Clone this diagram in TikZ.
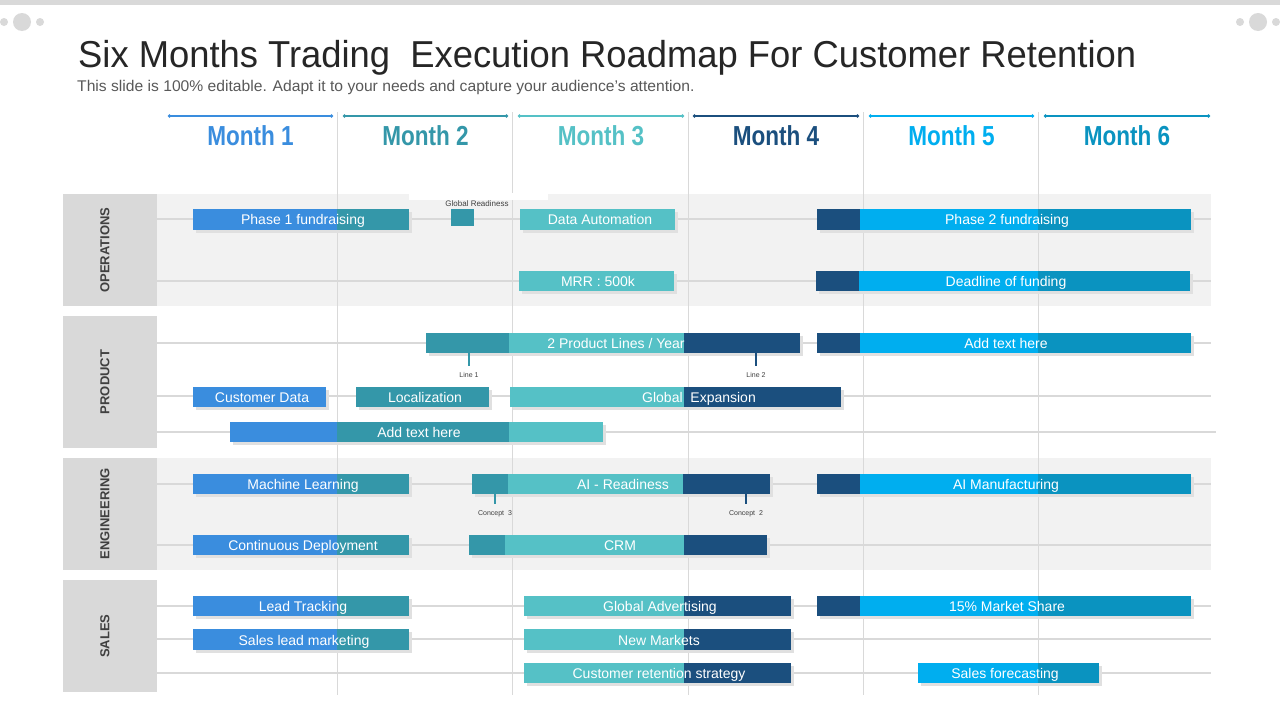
\documentclass[tikz,border=0pt]{standalone}
\usepackage{fontspec}
\setmainfont{Liberation Sans}
\usetikzlibrary{arrows.meta}
\definecolor{cA}{HTML}{3A8DDE}
\definecolor{cB}{HTML}{3497A9}
\definecolor{cC}{HTML}{55C1C6}
\definecolor{cD}{HTML}{1B4F7E}
\definecolor{cE}{HTML}{00AEEF}
\definecolor{cF}{HTML}{0A93C0}
\definecolor{gridc}{HTML}{D9D9D9}
\definecolor{bandc}{HTML}{F2F2F2}
\definecolor{secc}{HTML}{D9D9D9}
\newcommand{\sg}[5]{\fill[#5] (#1,#3) rectangle (#2,#4);}
\tikzset{bartext/.style={text=white,font=\fontsize{14}{14}\selectfont,inner sep=0pt,text height=12pt,text depth=2pt},
 small/.style={font=\fontsize{8}{8}\selectfont,text=black!75,inner sep=0pt},
 monthlbl/.style={font=\fontsize{27.5}{27.5}\selectfont\bfseries,inner sep=0pt},
 seclbl/.style={rotate=90,font=\fontsize{13}{13}\selectfont\bfseries,text=black!75,inner sep=0pt},
 tick/.style={line width=2pt},
 marr/.style={line width=1.5pt,{Circle[length=3pt]}-{Circle[length=3pt]}},
 shadow/.style={fill=black!12}}
\begin{document}
\begin{tikzpicture}[x=1pt,y=-1pt]
\useasboundingbox (0,0) rectangle (1280,720);
\fill[white] (0,0) rectangle (1280,720);
\fill[gridc] (0,0) rectangle (1280,5);
% decorative dots
\foreach \cx in {0,1236}{
 \fill[gridc] (\cx+4,22) circle (4);
 \fill[gridc] (\cx+22,22) circle (9);
 \fill[gridc] (\cx+40,22) circle (4);}
\node[anchor=base west,inner sep=0pt,font=\fontsize{37.5}{37.5}\selectfont,text=black!85] (title) at (78,67) {\scalebox{0.97}[1]{Six Months Trading\ \ Execution Roadmap For Customer Retention}};
\node[anchor=base west,inner sep=0pt,font=\fontsize{15.5}{15.5}\selectfont,text=black!65] (sub) at (77,91) {\scalebox{1.01}[1]{This slide is 100\% editable. Adapt it to your needs and capture your audience's attention.}};
% section backgrounds
\fill[bandc] (157,194) rectangle (1211,306);
\fill[bandc] (157,458) rectangle (1211,570);
\fill[secc] (63,194) rectangle (157,306);
\fill[secc] (63,316) rectangle (157,448);
\fill[secc] (63,458) rectangle (157,570);
\fill[secc] (63,580) rectangle (157,692);
\node[seclbl] (s1) at (105,250) {OPERATIONS};
\node[seclbl] (s2) at (105,382) {PRODUCT};
\node[seclbl] (s3) at (105,514) {ENGINEERING};
\node[seclbl] (s4) at (105,636) {SALES};
% vertical grid
\foreach \vx in {337,512,688,863,1038}{\draw[gridc,line width=1pt] (\vx,112) -- (\vx,695);}
% horizontal row lines
\foreach \hy in {219,281,343,396,484,545,606,639,673}{\draw[gridc,line width=1.5pt] (157,\hy) -- (1211,\hy);}
\draw[gridc,line width=1.5pt] (157,432) -- (1216,432);
% months
\foreach \a/\b/\c/\n/\lab in {168/333/cA/1/Month 1,343/508/cB/2/Month 2,518/684/cC/3/Month 3,693/859/cD/4/Month 4,869/1034/cE/5/Month 5,1044/1210/cF/6/Month 6}{
 \draw[marr,\c] (\a,116) -- (\b,116);
 \node[monthlbl,text=\c] (m\n) at ({(\a+\b)/2},136) {\scalebox{0.82}[1]{\lab}};}
% shadows
\foreach \xa/\xb/\ya/\yb in {193/409/209/230,520/675/209/230,817/1191/209/230,519/674/271/291,816/1190/271/291,426/800/333/353,817/1191/333/353,193/326/387/407,356/489/387/407,510/841/387/407,230/603/422/442,193/409/474/494,472/770/474/494,817/1191/474/494,193/409/535/555,469/767/535/555,193/409/596/616,524/791/596/616,817/1191/596/616,193/409/629/650,524/791/629/650,524/791/663/683,918/1099/663/683}{
 \fill[shadow] (\xa+3,\ya+3) rectangle (\xb+3,\yb+3);}
% OPERATIONS
\sg{193}{337}{209}{230}{cA}\sg{337}{409}{209}{230}{cB}
\node[bartext] (b1) at (303,219.5) {Phase 1 fundraising};
\fill[white] (409,193) rectangle (548,200);
\sg{451}{474}{209}{226}{cB}
\node[small] (gr) at (477,204) {Global Readiness};
\sg{520}{675}{209}{230}{cC}
\node[bartext] (b2) at (600,219.5) {Data Automation};
\sg{817}{860}{209}{230}{cD}\sg{860}{1038}{209}{230}{cE}\sg{1038}{1191}{209}{230}{cF}
\node[bartext] (b3) at (1007,219.5) {Phase 2 fundraising};
\sg{519}{674}{271}{291}{cC}
\node[bartext] (b4) at (598,281) {MRR : 500k};
\sg{816}{859}{271}{291}{cD}\sg{859}{1038}{271}{291}{cE}\sg{1038}{1190}{271}{291}{cF}
\node[bartext] (b5) at (1006,281) {Deadline of funding};
% PRODUCT
\sg{426}{509}{333}{353}{cB}\sg{509}{684}{333}{353}{cC}\sg{684}{800}{333}{353}{cD}
\node[bartext] (b6) at (616,343) {2 Product Lines / Year};
\node[small,font=\fontsize{7}{7}\selectfont] (l1) at (469,375) {Line 1};
\node[small,font=\fontsize{7}{7}\selectfont] (l2) at (756,375) {Line 2};
\draw[tick,cB] (469,353) -- (469,366);
\draw[tick,cD] (756,353) -- (756,366);
\sg{817}{860}{333}{353}{cD}\sg{860}{1038}{333}{353}{cE}\sg{1038}{1191}{333}{353}{cF}
\node[bartext] (b7) at (1006,343) {Add text here};
\sg{193}{326}{387}{407}{cA}
\node[bartext] (b8) at (262,397) {Customer Data};
\sg{356}{489}{387}{407}{cB}
\node[bartext] (b9) at (425,397) {Localization};
\sg{510}{684}{387}{407}{cC}\sg{684}{841}{387}{407}{cD}
\node[bartext] (b10) at (699,397) {Global\ \ Expansion};
\sg{230}{337}{422}{442}{cA}\sg{337}{509}{422}{442}{cB}\sg{509}{603}{422}{442}{cC}
\node[bartext] (b11) at (419,432) {Add text here};
% ENGINEERING
\sg{193}{337}{474}{494}{cA}\sg{337}{409}{474}{494}{cB}
\node[bartext] (b12) at (303,484) {Machine Learning};
\sg{472}{508}{474}{494}{cB}\sg{508}{683}{474}{494}{cC}\sg{683}{770}{474}{494}{cD}
\node[bartext] (b13) at (623,484) {AI - Readiness};
\draw[tick,cB] (495,494) -- (495,504);
\draw[tick,cD] (746,494) -- (746,504);
\node[small,font=\fontsize{7}{7}\selectfont] (c3) at (495,514) {Concept\ \ 3};
\node[small,font=\fontsize{7}{7}\selectfont] (c2) at (746,514) {Concept\ \ 2};
\sg{817}{860}{474}{494}{cD}\sg{860}{1038}{474}{494}{cE}\sg{1038}{1191}{474}{494}{cF}
\node[bartext] (b14) at (1006,484) {AI Manufacturing};
\sg{193}{337}{535}{555}{cA}\sg{337}{409}{535}{555}{cB}
\node[bartext] (b15) at (303,545) {Continuous Deployment};
\sg{469}{505}{535}{555}{cB}\sg{505}{684}{535}{555}{cC}\sg{684}{767}{535}{555}{cD}
\node[bartext] (b16) at (620,545) {CRM};
% SALES
\sg{193}{337}{596}{616}{cA}\sg{337}{409}{596}{616}{cB}
\node[bartext] (b17) at (303,606) {Lead Tracking};
\sg{524}{684}{596}{616}{cC}\sg{684}{791}{596}{616}{cD}
\node[bartext] (b18) at (660,606) {Global Advertising};
\sg{817}{860}{596}{616}{cD}\sg{860}{1038}{596}{616}{cE}\sg{1038}{1191}{596}{616}{cF}
\node[bartext] (b19) at (1007,606) {15\% Market Share};
\sg{193}{337}{629}{650}{cA}\sg{337}{409}{629}{650}{cB}
\node[bartext] (b20) at (304,640) {Sales lead marketing};
\sg{524}{684}{629}{650}{cC}\sg{684}{791}{629}{650}{cD}
\node[bartext] (b21) at (659,640) {New Markets};
\sg{524}{684}{663}{683}{cC}\sg{684}{791}{663}{683}{cD}
\node[bartext] (b22) at (659,673) {Customer retention strategy};
\sg{918}{1038}{663}{683}{cE}\sg{1038}{1099}{663}{683}{cF}
\node[bartext] (b23) at (1005,673) {Sales forecasting};
\end{tikzpicture}
\end{document}
